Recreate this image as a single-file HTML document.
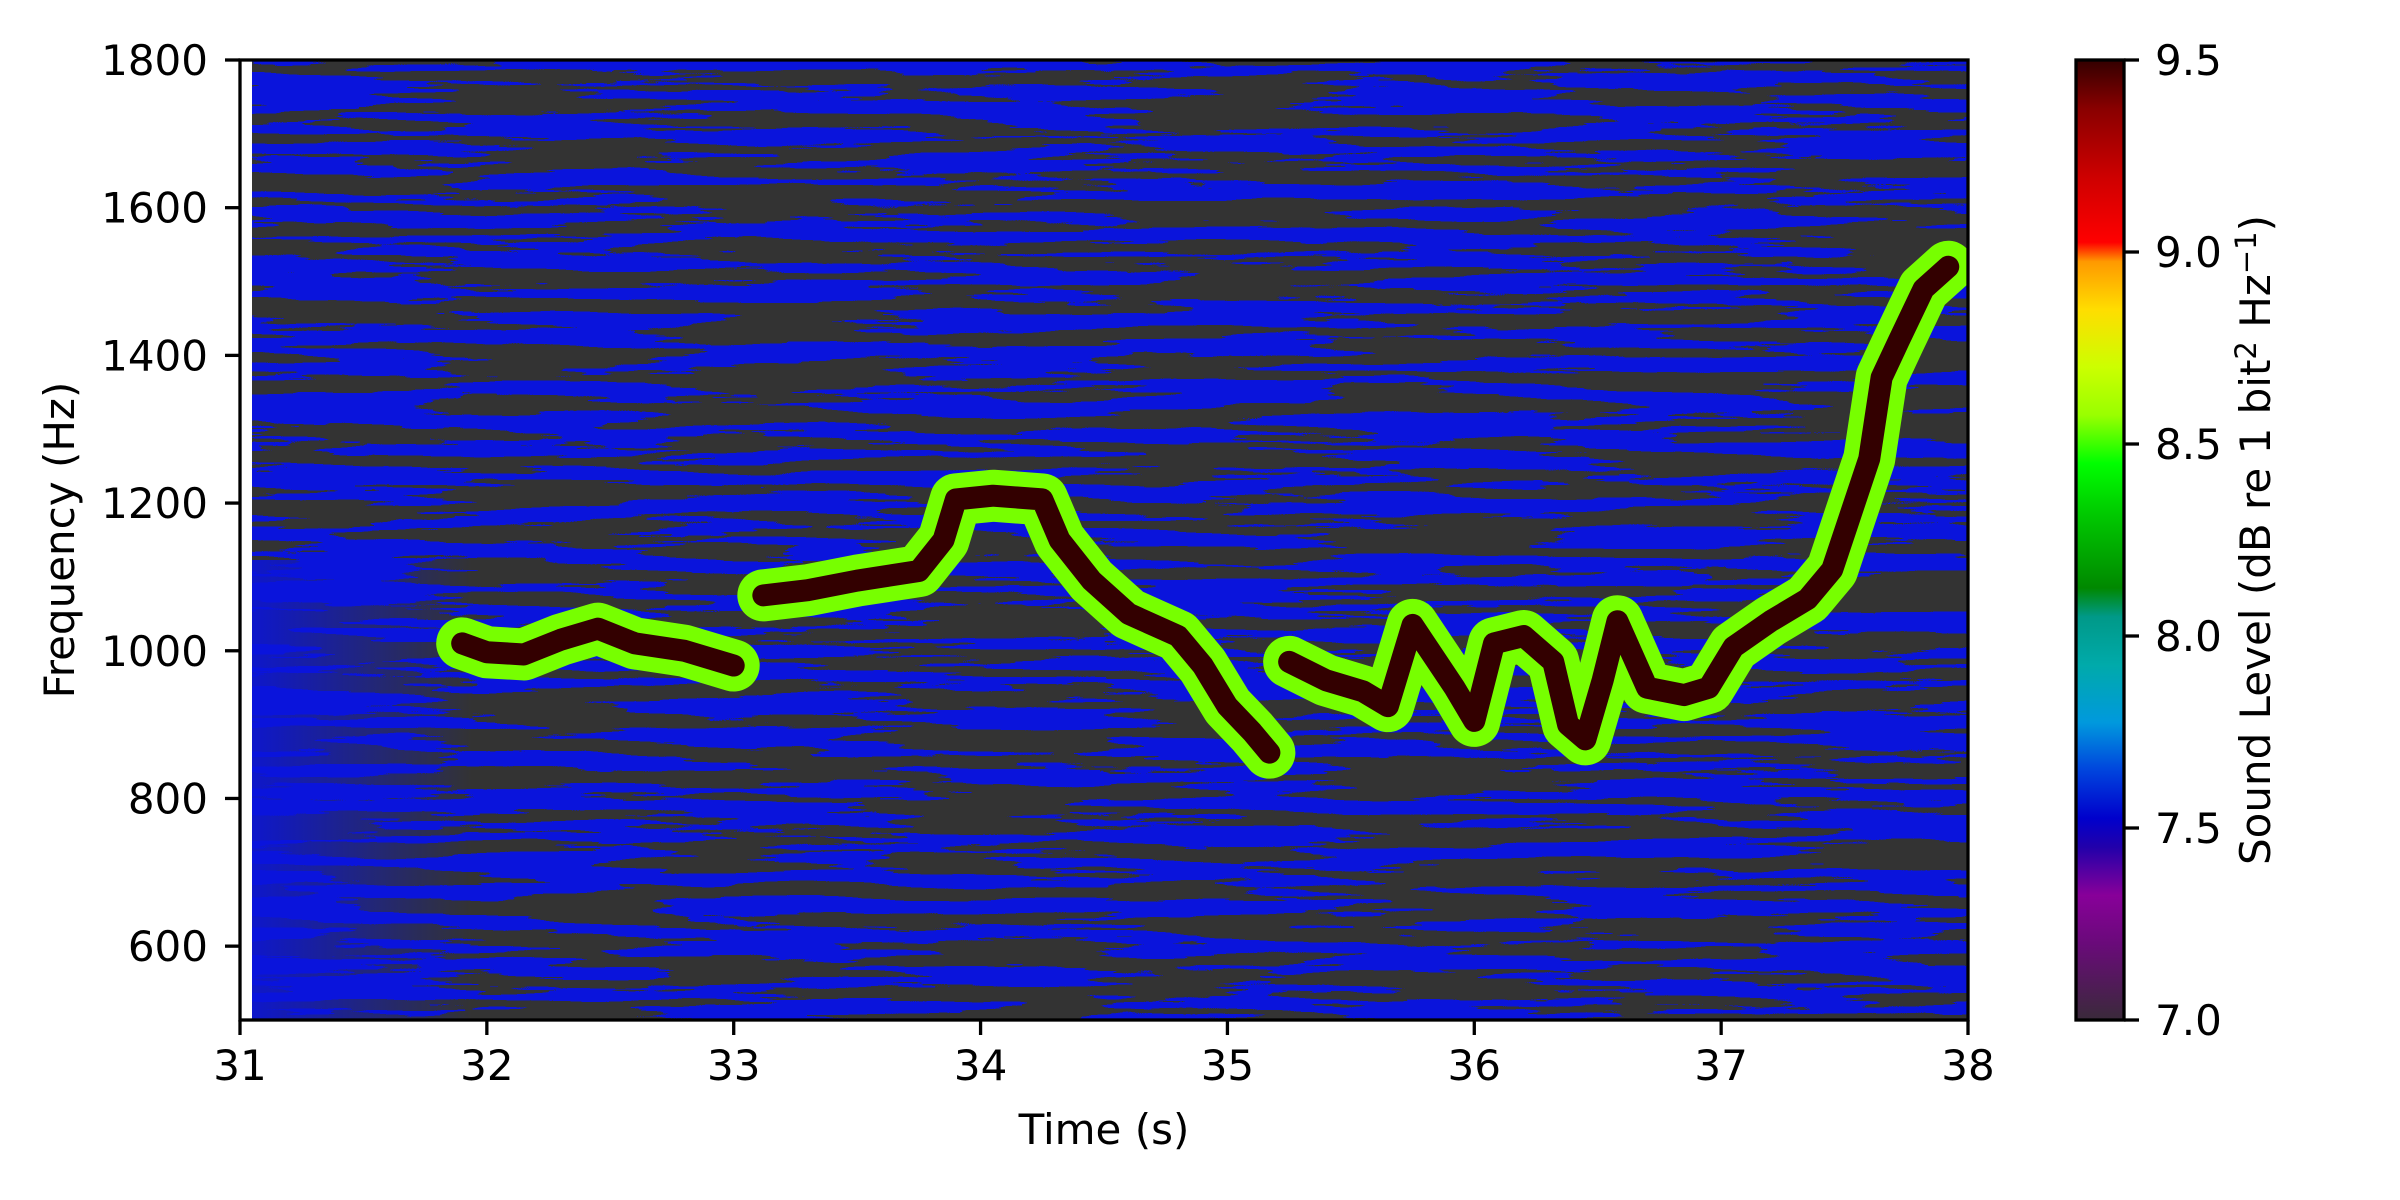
<!DOCTYPE html>
<html><head><meta charset="utf-8"><style>
html,body{margin:0;padding:0;background:#fff;}
svg{display:block;font-family:"DejaVu Sans","Liberation Sans",sans-serif;}
</style></head><body>
<svg id="chart" width="2400" height="1200" viewBox="0 0 2400 1200">
<defs>
<filter id="streaks" filterUnits="userSpaceOnUse" x="252" y="60" width="1716" height="960" color-interpolation-filters="sRGB">
<feTurbulence type="fractalNoise" baseFrequency="0.0045 0.07" numOctaves="4" seed="7" result="n"/>
<feColorMatrix type="matrix" values="0 0 0 0 0.2  0 0 0 0 0.2  0 0 0 0 0.2  1 0 0 0 0"/>
<feComponentTransfer><feFuncA type="discrete" tableValues="0 0 0 0 0 1 1 1 1 1"/></feComponentTransfer>
</filter>
<linearGradient id="leftBlue" x1="0" y1="0" x2="1" y2="0">
<stop offset="0" stop-color="#0a14dc" stop-opacity="0.9"/>
<stop offset="1" stop-color="#0a14dc" stop-opacity="0"/>
</linearGradient>
<linearGradient id="cbar" x1="0" y1="1" x2="0" y2="0">
<stop offset="0" stop-color="#3a2a3a"/>
<stop offset="0.08" stop-color="#6a0a7a"/>
<stop offset="0.13" stop-color="#880099"/>
<stop offset="0.18" stop-color="#2200aa"/>
<stop offset="0.21" stop-color="#0000cc"/>
<stop offset="0.26" stop-color="#0044dd"/>
<stop offset="0.31" stop-color="#0099dd"/>
<stop offset="0.37" stop-color="#00aaaa"/>
<stop offset="0.42" stop-color="#009988"/>
<stop offset="0.45" stop-color="#008800"/>
<stop offset="0.53" stop-color="#00cc00"/>
<stop offset="0.58" stop-color="#00ff00"/>
<stop offset="0.63" stop-color="#99ff00"/>
<stop offset="0.68" stop-color="#ccff00"/>
<stop offset="0.74" stop-color="#ffdd00"/>
<stop offset="0.79" stop-color="#ff9900"/>
<stop offset="0.81" stop-color="#ff0000"/>
<stop offset="0.88" stop-color="#cc0000"/>
<stop offset="0.95" stop-color="#880000"/>
<stop offset="1" stop-color="#330000"/>
</linearGradient>
<clipPath id="plotClip"><rect x="252" y="60" width="1716" height="960"/></clipPath>
</defs>
<g clip-path="url(#plotClip)">
<rect x="252" y="60" width="1716" height="960" fill="#0a14dc"/>
<rect x="252" y="60" width="1716" height="960" fill="#333333" filter="url(#streaks)"/>
<rect x="252" y="560" width="220" height="460" fill="url(#leftBlue)"/>
<g id="whistle"></g>
</g>
<g id="axes"></g>
<rect x="240" y="60" width="1728" height="960" fill="none" stroke="#000" stroke-width="3.3"/>
<text x="1104" y="1144" font-size="42" text-anchor="middle">Time (s)</text>
<text transform="translate(74,540) rotate(-90)" font-size="42" text-anchor="middle">Frequency (Hz)</text>
<rect x="2076" y="60" width="48" height="960" fill="url(#cbar)" stroke="#000" stroke-width="3.3"/>
<g id="cbaxis"></g>
<text transform="translate(2270,540) rotate(-90)" font-size="42" text-anchor="middle">Sound Level (dB re 1 bit<tspan font-size="29" dy="-14">2</tspan><tspan dy="14"> Hz</tspan><tspan font-size="29" dy="-14">−1</tspan><tspan dy="14">)</tspan></text>
</svg>
<script>
const xTicks = [31,32,33,34,35,36,37,38];
const yTicks = [600,800,1000,1200,1400,1600,1800];
const cbTicks = ["7.0","7.5","8.0","8.5","9.0","9.5"];
const seg1Time = [31.9,32.0,32.15,32.3,32.45,32.6,32.8,33.0];
const seg1Freq = [1010,998,995,1015,1030,1010,1000,980];
const seg2Time = [33.12,33.3,33.5,33.75,33.85,33.9,34.05,34.25,34.32,34.45,34.6,34.8,34.9,35.0,35.1,35.17];
const seg2Freq = [1075,1082,1095,1108,1150,1205,1210,1205,1150,1095,1050,1020,980,925,890,862];
const seg3Time = [35.25,35.4,35.55,35.65,35.75,35.82,35.92,36.0,36.08,36.2,36.32,36.38,36.45,36.52,36.58,36.7,36.85,36.95,37.05,37.2,37.35,37.45,37.52,37.6,37.65,37.72,37.82,37.92];
const seg3Freq = [985,960,945,925,1035,1000,950,905,1010,1020,985,900,880,960,1040,950,940,950,1005,1040,1070,1110,1180,1260,1370,1420,1490,1520];
const NS="http://www.w3.org/2000/svg";
const X0=31,X1=38,Y0=500,Y1=1800;
const xs=t=>240+(t-X0)/(X1-X0)*1728;
const ys=f=>1020-(f-Y0)/(Y1-Y0)*960;
const cy=v=>1020-(v-7)/2.5*960;
function mk(tag,attrs,parent){const e=document.createElementNS(NS,tag);for(const k in attrs)e.setAttribute(k,attrs[k]);parent.appendChild(e);return e;}
const wg=document.getElementById('whistle');
[[seg1Time,seg1Freq],[seg2Time,seg2Freq],[seg3Time,seg3Freq]].forEach((s,i)=>{
  const pts=s[0].map((t,j)=>xs(t)+','+ys(s[1][j])).join(' ');
  const g=mk('polyline',{points:pts,fill:'none',stroke:'#77ff00','stroke-width':52,'stroke-linejoin':'round','stroke-linecap':'round'},wg);
  
  
  const c=mk('polyline',{points:pts,fill:'none',stroke:'#330000','stroke-width':22,'stroke-linejoin':'round','stroke-linecap':'round'},wg);
  
  
});
const ax=document.getElementById('axes');
xTicks.forEach(t=>{
  const l=mk('line',{x1:xs(t),x2:xs(t),y1:1020,y2:1035,stroke:'#000','stroke-width':3.3},ax);
  
  
  const tx=mk('text',{x:xs(t),y:1080,'font-size':42,'text-anchor':'middle'},ax);
  tx.textContent=t;
  
  
});
yTicks.forEach(f=>{
  const l=mk('line',{x1:225,x2:240,y1:ys(f),y2:ys(f),stroke:'#000','stroke-width':3.3},ax);
  
  
  const tx=mk('text',{x:208,y:ys(f)+15,'font-size':42,'text-anchor':'end'},ax);
  tx.textContent=f;
  
  
});
const cb=document.getElementById('cbaxis');
cbTicks.forEach(v=>{
  const y=cy(parseFloat(v));
  const l=mk('line',{x1:2124,x2:2139,y1:y,y2:y,stroke:'#000','stroke-width':3.3},cb);
  
  
  const tx=mk('text',{x:2155,y:y+15,'font-size':42},cb);
  tx.textContent=v;
  
  
});
</script>
</body></html>
